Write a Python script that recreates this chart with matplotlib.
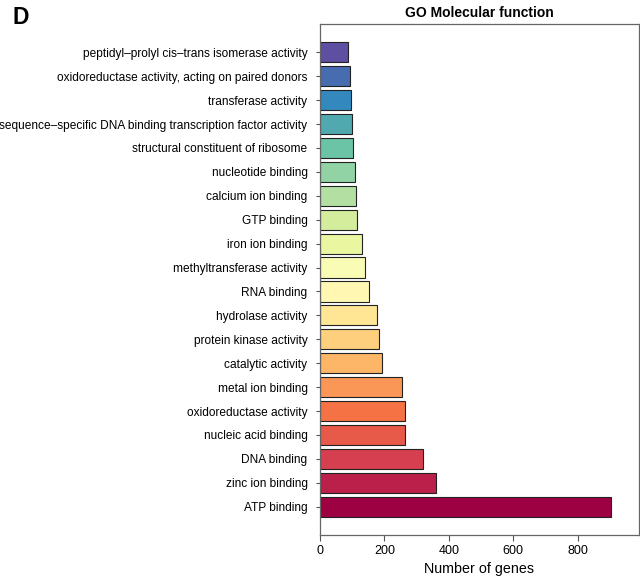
import numpy as np
import matplotlib

matplotlib.use("Agg")
import matplotlib.pyplot as plt

plt.rcParams["font.family"] = ["Liberation Sans", "DejaVu Sans"]

# GO molecular function terms, listed top to bottom as drawn
terms = [
    "peptidyl–prolyl cis–trans isomerase activity",
    "oxidoreductase activity, acting on paired donors",
    "transferase activity",
    "sequence–specific DNA binding transcription factor activity",
    "structural constituent of ribosome",
    "nucleotide binding",
    "calcium ion binding",
    "GTP binding",
    "iron ion binding",
    "methyltransferase activity",
    "RNA binding",
    "hydrolase activity",
    "protein kinase activity",
    "catalytic activity",
    "metal ion binding",
    "oxidoreductase activity",
    "nucleic acid binding",
    "DNA binding",
    "zinc ion binding",
    "ATP binding",
]
gene_counts = [88, 92, 95, 99, 101, 108, 112, 116, 131, 140,
               153, 178, 182, 192, 254, 263, 263, 321, 361, 905]

n = len(terms)
ypos = np.arange(n)[::-1]
colors = plt.cm.Spectral(np.linspace(1, 0, n))

fig = plt.figure(figsize=(6.4, 5.8), dpi=100)
ax = fig.add_axes([0.5, 0.0776, 0.498, 0.881])

ax.barh(ypos, gene_counts, height=0.84, color=colors,
        edgecolor="#222222", linewidth=0.8)

ax.set_yticks(ypos)
ax.set_yticklabels(terms, fontsize=8.6)
ax.set_xlim(0, 990)
ax.set_ylim(-1.18, n - 1 + 1.18)
ax.set_xticks([0, 200, 400, 600, 800])
ax.tick_params(axis="x", labelsize=9, length=4, width=0.8, color="#555555")
ax.tick_params(axis="y", length=3, width=0.8, color="#555555", pad=6)
ax.set_xlabel("Number of genes", fontsize=10.3, labelpad=3)
ax.set_title("GO Molecular function", fontsize=10, fontweight="bold", pad=5)

for side in ax.spines.values():
    side.set_color("#666666")
    side.set_linewidth(0.9)

fig.text(0.02, 0.99, "D", fontsize=16.5, fontweight="bold", va="top", ha="left")

fig.savefig("out.png", dpi=100)
plt.close(fig)
